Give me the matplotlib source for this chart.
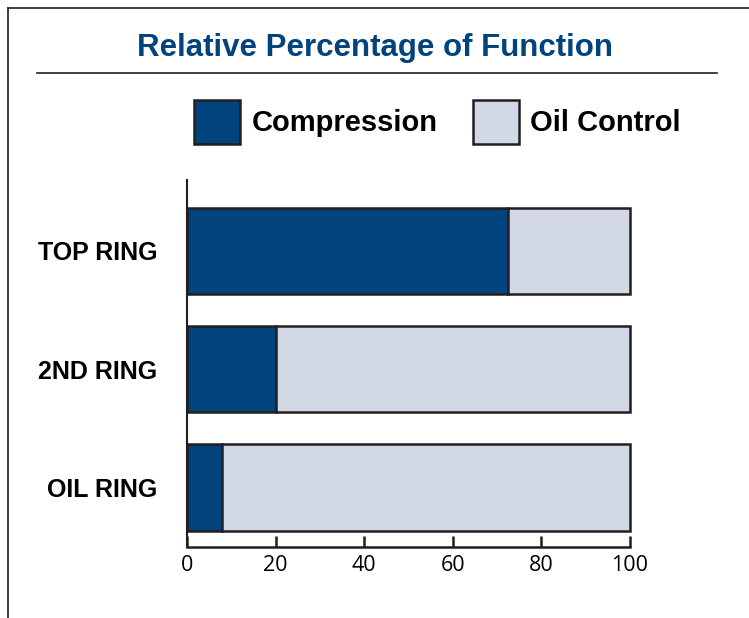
import matplotlib
matplotlib.use("Agg")
import matplotlib.pyplot as plt
from matplotlib.lines import Line2D

# データ
rings = ["TOP RING", "2ND RING", "OIL RING"]
compression = [72.5, 20, 8]
oil_control = [27.5, 80, 92]
xticks = [0, 20, 40, 60, 80, 100]

blue = "#00437d"
light = "#d2d8e5"
edge = "#231f20"

W, H = 749, 618
fig = plt.figure(figsize=(W / 100, H / 100), dpi=100)

# 外枠（上と左）
fig.add_artist(Line2D([8 / W, 8 / W], [0, 1 - 8 / H], color="#231f20", lw=1.2))
fig.add_artist(Line2D([8 / W, 1], [1 - 8 / H, 1 - 8 / H], color="#231f20", lw=1.2))

# タイトルと下線
fig.text(375 / W, 1 - 48 / H, "Relative Percentage of Function",
         ha="center", va="center", color=blue, fontsize=22.5, fontweight="bold",
         family=["Liberation Sans Narrow", "Liberation Sans"])
fig.add_artist(Line2D([37 / W, 717 / W], [1 - 73 / H, 1 - 73 / H], color="#231f20", lw=1.2))

ax = fig.add_axes([187 / W, 1 - 547 / H, 443 / W, 367 / H])
ypos = list(range(len(rings)))
b1 = ax.barh(ypos, compression, height=0.73, color=blue, edgecolor=edge, linewidth=1.8,
             label="Compression")
b2 = ax.barh(ypos, oil_control, left=compression, height=0.73, color=light, edgecolor=edge,
             linewidth=1.8, label="Oil Control")
for p in list(b1) + list(b2):
    p.set_clip_on(False)

ax.set_xlim(0, 100)
ax.set_ylim(2.504, -0.6)
ax.set_xticks(xticks)
ax.set_xticklabels([str(t) for t in xticks], fontsize=15.5, family="Open Sans")
ax.set_yticks(ypos)
ax.set_yticklabels(rings, fontsize=18, fontweight="bold", family="Liberation Sans")
ax.tick_params(axis="x", direction="in", length=8, width=1.8, color=edge, pad=6)
ax.tick_params(axis="y", length=0, pad=21.6)
for s in ["top", "right"]:
    ax.spines[s].set_visible(False)
ax.spines["left"].set_linewidth(1.5)
ax.spines["left"].set_color(edge)
ax.spines["bottom"].set_linewidth(1.8)
ax.spines["bottom"].set_color(edge)

leg = fig.legend(handles=[b1, b2], loc="center left", bbox_to_anchor=(194 / W, 1 - 122 / H),
                 ncol=2, frameon=False, handlelength=1.58, handleheight=1.95,
                 handletextpad=0.4, columnspacing=1.2, borderpad=0, borderaxespad=0,
                 prop={"family": "Liberation Sans", "weight": "bold", "size": 21})

fig.savefig("out.png", dpi=100)
